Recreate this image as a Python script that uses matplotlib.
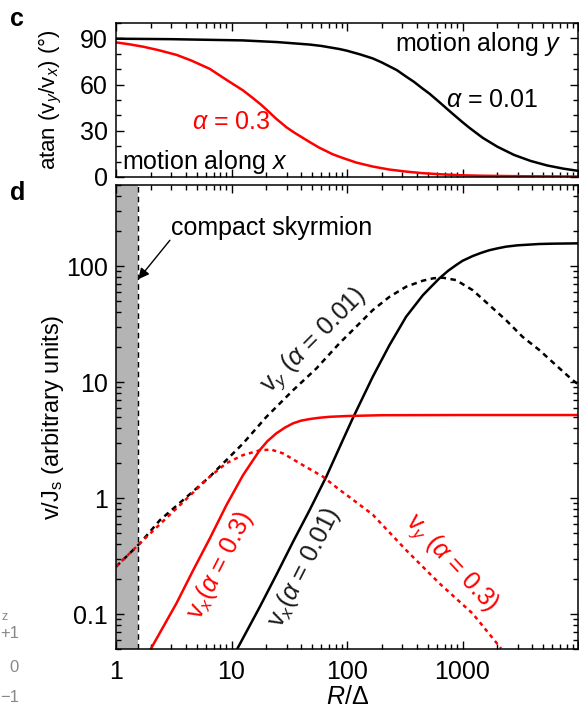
import matplotlib
matplotlib.use("Agg")
import matplotlib.pyplot as plt
from matplotlib.ticker import FixedLocator, MultipleLocator, LogLocator, NullFormatter, FixedFormatter

plt.rcParams['font.family'] = ['Liberation Sans', 'DejaVu Sans']
plt.rcParams['mathtext.fontset'] = 'custom'
plt.rcParams['mathtext.rm'] = 'Liberation Sans'
plt.rcParams['mathtext.it'] = 'Liberation Sans:italic'
plt.rcParams['mathtext.bf'] = 'Liberation Sans:bold'

# --- panel c : atan(vy/vx) in degrees ---
angle_r_a001 = [1, 3, 12.5, 25, 47.5, 60, 86, 100, 130, 167, 200, 270, 325, 380, 450, 520, 631, 800,
                1000, 1150, 1500, 2000, 2800, 3900, 5400, 7500, 10000]
angle_a001 = [89.8, 89.5, 88.7, 87.6, 86.0, 85.1, 83.1, 82.0, 79.6, 77.0, 74.4, 69.4, 65.2, 61.8, 57.5, 54.0,
              48.6, 41.8, 35.6, 31.9, 25.4, 19.7, 14.3, 10.4, 7.5, 5.4, 4.0]

angle_r_a03 = [1, 1.3, 1.72, 2.3, 3.34, 4.5, 6.49, 9, 12.6, 15, 18, 21, 24.4, 30, 35, 47.5, 57, 75, 90,
               120, 167, 230, 325, 450, 631, 1000, 1500, 3300, 10000]
angle_a03 = [87.4, 86.2, 84.6, 82.5, 79.3, 75.6, 70.2, 63.2, 56.2, 51.8, 47.0, 42.4, 37.8, 32.2, 28.8,
             22.7, 19.2, 14.8, 12.6, 9.4, 6.8, 4.9, 3.5, 2.5, 1.8, 1.1, 0.8, 0.5, 0.3]

# --- panel d : velocities ---
vx_r_a001 = [11.2, 17.6, 24.4, 34.1, 47.5, 66.2, 92, 112, 167, 233, 325, 453, 540, 631, 750, 880, 1000,
             1225, 1450, 1707, 2000, 2380, 3000, 4620, 6000, 10000]
vx_a001 = [0.05, 0.1156, 0.217, 0.42, 0.789, 1.53, 3.16, 4.86, 11.1, 20.8, 36.6, 56, 67, 78.4, 91, 102, 111,
           122, 130, 137, 142, 147, 151, 155, 156, 157]

vy_r_a001 = [1, 1.61, 2.4, 4.08, 6.49, 12.6, 20, 34.1, 54.3, 86, 120, 167, 233, 325, 453, 560, 675, 880,
             1225, 1707, 2380, 3320, 4620, 6440, 8970, 10000]
vy_a001 = [0.256, 0.407, 0.645, 1.02, 1.53, 2.96, 5.0, 8.5, 13.1, 21.6, 30, 41.7, 54.3, 66.4, 74.8, 78.5,
           79.4, 75.7, 62, 46.1, 34.2, 24.5, 18.9, 14.0, 10.4, 9.6]

vx_r_a03 = [2.0, 3.34, 4.66, 6.49, 9.04, 12.6, 17.6, 20.5, 24.4, 29, 34.1, 40, 47.5, 58, 70.9, 101, 200,
            1000, 10000]
vx_a03 = [0.05, 0.124, 0.239, 0.449, 0.87, 1.58, 2.6, 3.1, 3.61, 4.05, 4.41, 4.65, 4.8, 4.93, 5.02, 5.1,
          5.18, 5.2, 5.2]

vy_r_a03 = [1, 1.61, 3.34, 6.49, 9.04, 12.6, 17.6, 22, 27.9, 41.6, 61.9, 86, 101, 167, 325, 631, 1225, 2155]
vy_a03 = [0.256, 0.407, 0.815, 1.53, 2.0, 2.35, 2.58, 2.62, 2.43, 1.92, 1.53, 1.18, 1.05, 0.72, 0.356,
          0.184, 0.101, 0.0506]

compact_edge = 1.56
x_ticks = [1, 10, 100, 1000, 10000]
x_ticklabels = ['1', '10', '100', '1000', '']
y_ticks = [0.1, 1, 10, 100]
y_ticklabels = ['0.1', '1', '10', '100']

RED = '#ff0000'
FS = 18

fig = plt.figure(figsize=(5.79, 7.09), dpi=100)
W, H = 579, 709


def px_axes(left, top, right, bottom):
    return fig.add_axes([left / W, 1 - bottom / H, (right - left) / W, (bottom - top) / H])


def style_ticks(ax):
    ax.tick_params(which='both', direction='in', top=True, right=True, labelsize=FS, width=1.0)
    ax.tick_params(which='major', length=6)
    ax.tick_params(which='minor', length=3.3)
    ax.tick_params(axis='y', which='major', pad=6)
    ax.tick_params(axis='x', which='major', pad=8)
    for s in ax.spines.values():
        s.set_linewidth(1.1)


# top panel
axc = px_axes(116, 23, 578, 177)
axc.plot(angle_r_a001, angle_a001, color='k', lw=1.8)
axc.plot(angle_r_a03, angle_a03, color=RED, lw=1.8)
axc.set_xscale('log')
axc.set_xlim(1, 10000)
axc.set_ylim(0, 100)
axc.yaxis.set_major_locator(MultipleLocator(30))
axc.yaxis.set_minor_locator(MultipleLocator(10))
axc.xaxis.set_major_locator(FixedLocator(x_ticks))
axc.xaxis.set_minor_locator(LogLocator(base=10, subs=range(2, 10)))
axc.xaxis.set_major_formatter(NullFormatter())
axc.xaxis.set_minor_formatter(NullFormatter())
style_ticks(axc)
axc.set_ylabel(r'atan ($\mathrm{v}_{y}/\mathrm{v}_{x}$) (°)', fontsize=16)
axc.yaxis.set_label_coords(-0.112, 0.5)
axc.text(1.12, 10, r'motion along $x$', fontsize=FS, ha='left', va='center')
axc.text(7160, 86.6, r'motion along $y$', fontsize=FS, ha='right', va='center')
axc.text(4.54, 35.4, r'$\alpha$ = 0.3', color=RED, fontsize=FS, ha='left', va='center')
axc.text(726, 49.7, r'$\alpha$ = 0.01', color='k', fontsize=FS, ha='left', va='center')

# bottom panel
axd = px_axes(116, 185, 578, 649)
axd.axvspan(1, compact_edge, color='#b4b4b4', lw=0, zorder=0)
axd.axvline(compact_edge, color='k', lw=1.0, ls=(0, (4, 3)), zorder=1)
axd.plot(vx_r_a001, vx_a001, color='k', lw=1.8)
axd.plot(vy_r_a001, vy_a001, color='k', lw=1.8, ls=(0, (2.2, 1.8)))
axd.plot(vx_r_a03, vx_a03, color=RED, lw=1.8)
axd.plot(vy_r_a03, vy_a03, color=RED, lw=1.8, ls=(0, (1.6, 1.6)))
axd.set_xscale('log')
axd.set_yscale('log')
axd.set_xlim(1, 10000)
axd.set_ylim(0.05, 500)
axd.xaxis.set_major_locator(FixedLocator(x_ticks))
axd.xaxis.set_major_formatter(FixedFormatter(x_ticklabels))
axd.xaxis.set_minor_locator(LogLocator(base=10, subs=range(2, 10)))
axd.xaxis.set_minor_formatter(NullFormatter())
axd.yaxis.set_major_locator(FixedLocator(y_ticks))
axd.yaxis.set_major_formatter(FixedFormatter(y_ticklabels))
axd.yaxis.set_minor_locator(LogLocator(base=10, subs=range(2, 10)))
axd.yaxis.set_minor_formatter(NullFormatter())
style_ticks(axd)
axd.set_ylabel(r'$\mathrm{v}/\mathrm{J}_{\mathrm{s}}$ (arbitrary units)', fontsize=17)
axd.yaxis.set_label_coords(-0.108, 0.5)
axd.set_xlabel(r'$R$/Δ', fontsize=FS)
axd.xaxis.labelpad = 1

axd.annotate('', xy=(compact_edge, 77), xytext=(2.93, 167),
             arrowprops=dict(arrowstyle='-|>', color='k', lw=1.0, mutation_scale=16,
                             shrinkA=0, shrinkB=0))
axd.text(2.99, 213, 'compact skyrmion', fontsize=FS, ha='left', va='center')

axd.text(52.5, 22.5, r'$\mathrm{v}_{y}$ ($\alpha$ = 0.01)', fontsize=FS, rotation=45,
         ha='center', va='center', rotation_mode='anchor', color='#1a1a1a')
axd.text(7.9, 0.264, r'$\mathrm{v}_{x}$($\alpha$ = 0.3)', fontsize=FS, rotation=63,
         ha='center', va='center', rotation_mode='anchor', color=RED)
axd.text(43, 0.254, r'$\mathrm{v}_{x}$($\alpha$ = 0.01)', fontsize=FS, rotation=63,
         ha='center', va='center', rotation_mode='anchor', color='#1a1a1a')
axd.text(802, 0.275, r'$\mathrm{v}_{y}$ ($\alpha$ = 0.3)', fontsize=FS, rotation=-47,
         ha='center', va='center', rotation_mode='anchor', color=RED)

# panel letters
fig.text(10 / W, 1 - 19 / H, 'c', fontsize=FS, fontweight='bold', va='center', ha='left')
fig.text(10 / W, 1 - 193 / H, 'd', fontsize=FS, fontweight='bold', va='center', ha='left')

# leftover colour-bar fragment at the bottom-left edge
frag_labels = ['z', '+1', '0', '\u22121']
frag_y = [617, 634, 667, 697]
frag_x = [1, 19, 19, 19]
frag_ha = ['left', 'right', 'right', 'right']
for lab, fx, fy, fha in zip(frag_labels, frag_x, frag_y, frag_ha):
    fig.text(fx / W, 1 - fy / H, lab, fontsize=12 if lab != 'z' else 9, color='#888888',
             ha=fha, va='center')

fig.savefig('out.png', dpi=100)
